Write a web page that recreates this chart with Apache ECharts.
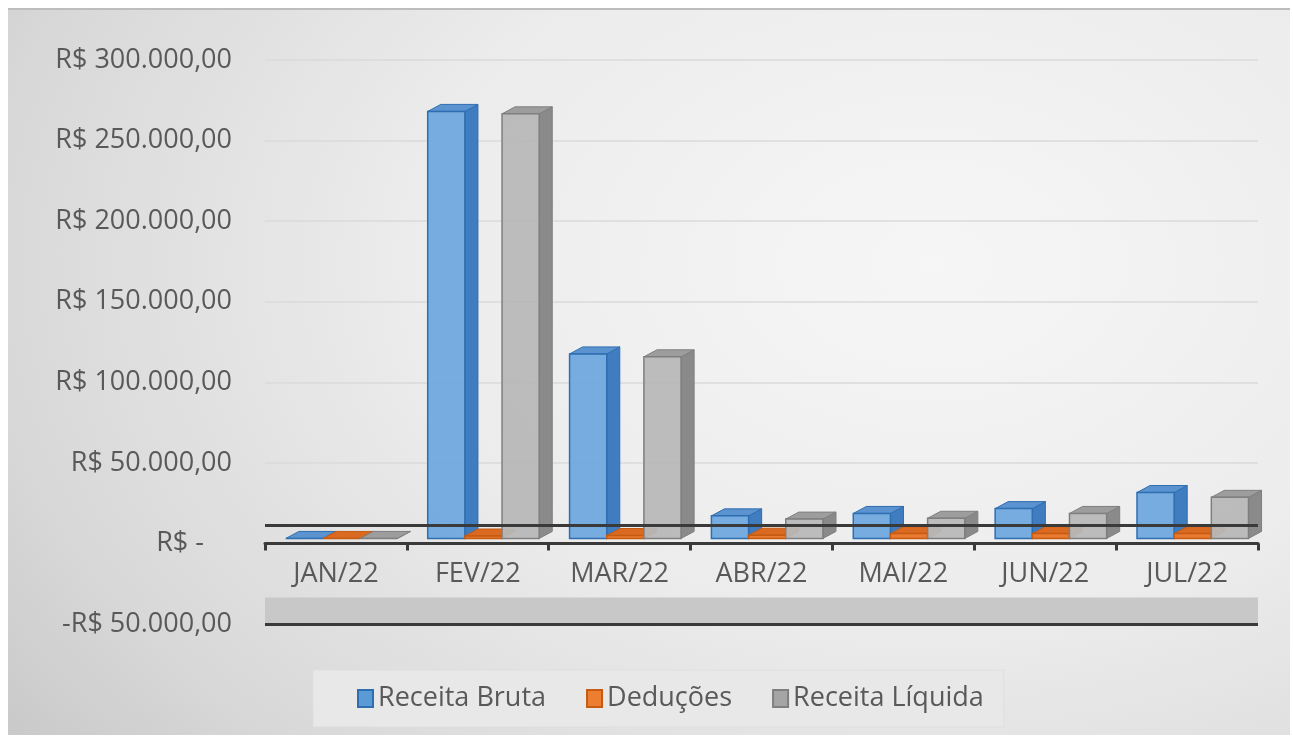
<!DOCTYPE html>
<html>
<head>
<meta charset="utf-8">
<script src="https://cdn.jsdelivr.net/npm/echarts@6/dist/echarts.min.js"></script>
<style>
  html, body { margin: 0; padding: 0; background: #fff; }
  #chart {
    position: absolute; left: 8px; top: 8px; width: 1282px; height: 727px;
    background: radial-gradient(ellipse 90% 110% at 72% 35%, #f6f6f6 0%, #ececec 45%, #d9d9d9 80%, #c9c9c9 100%);
    border-top: 2px solid #bdbdbd;
    box-sizing: border-box;
  }
</style>
</head>
<body>
<div id="chart"></div>
<script>
var categories = ['JAN/22', 'FEV/22', 'MAR/22', 'ABR/22', 'MAI/22', 'JUN/22', 'JUL/22'];
var receitaBruta = [0, 265000, 114500, 14000, 15500, 18500, 28500];
var deducoes = [0, 1500, 1800, 2000, 3000, 3000, 3000];
var receitaLiquida = [0, 263500, 112700, 12000, 12500, 15500, 25500];
var yTicks = [-50000, 0, 50000, 100000, 150000, 200000, 250000, 300000];

function brl(v) {
  if (v === 0) return 'R$ -    ';
  var n = Math.abs(v).toFixed(2).split('.');
  var inteiro = n[0].replace(/\B(?=(\d{3})+(?!\d))/g, '.');
  return (v < 0 ? '-' : '') + 'R$ ' + inteiro + ',' + n[1];
}

// caixa "3D" desenhada a partir das escalas do grid
function caixa(slot, face, lado, topo, borda) {
  return function (params, api) {
    var i = api.value(0), v = api.value(1);
    var band = api.size([1, 0])[0];
    var w = band * 0.262, dx = band * 0.092, dy = -7, lift = -5;
    var p0 = api.coord([i, 0]), p1 = api.coord([i, v]);
    var x = p0[0] - band * 0.353 + slot * w;
    var yb = p0[1] + lift, yt = p1[1] + lift;
    return {
      type: 'group',
      children: [
        { type: 'polygon', shape: { points: [[x + w, yt], [x + w + dx, yt + dy], [x + w + dx, yb + dy], [x + w, yb]] },
          style: { fill: lado, stroke: borda, lineWidth: 1 } },
        { type: 'polygon', shape: { points: [[x, yt], [x + dx, yt + dy], [x + w + dx, yt + dy], [x + w, yt]] },
          style: { fill: topo, stroke: borda, lineWidth: 1 } },
        { type: 'rect', shape: { x: x, y: yt, width: w, height: yb - yt },
          style: { fill: face, stroke: borda, lineWidth: 1.5 } }
      ]
    };
  };
}

function pares(arr) {
  return arr.map(function (v, i) { return [i, v]; });
}

var chartDom = document.getElementById('chart');
var myChart = echarts.init(chartDom);
var option;

var fonte = '"Open Sans", sans-serif';

option = {
  backgroundColor: 'transparent',
  textStyle: { fontFamily: fonte },
  grid: { left: 257, right: 32, top: 50, bottom: 111 },
  legend: {
    left: 305,
    top: 660,
    padding: [15, 20, 15, 44],
    backgroundColor: '#e8e8e8',
    borderColor: '#dedede',
    borderWidth: 1,
    itemGap: 40,
    itemWidth: 15,
    itemHeight: 17,
    icon: 'rect',
    textStyle: { fontSize: 27, color: '#595959', fontFamily: fonte },
    data: [
      { name: 'Receita Bruta', itemStyle: { color: '#5b9bd5', borderColor: '#2f6eb0', borderWidth: 2 } },
      { name: 'Deduções', itemStyle: { color: '#ed7d31', borderColor: '#c55a11', borderWidth: 2 } },
      { name: 'Receita Líquida', itemStyle: { color: '#a5a5a5', borderColor: '#7f7f7f', borderWidth: 2 } }
    ]
  },
  xAxis: {
    type: 'category',
    data: categories,
    boundaryGap: true,
    axisLine: { onZero: true, lineStyle: { color: '#3a3a3a', width: 3 } },
    axisTick: { show: true, length: 7, lineStyle: { color: '#3a3a3a', width: 3 } },
    axisLabel: { fontSize: 27, color: '#595959', margin: -63, fontFamily: fonte }
  },
  yAxis: {
    type: 'value',
    min: yTicks[0],
    max: yTicks[yTicks.length - 1],
    interval: 50000,
    axisLine: { show: false },
    axisTick: { show: false },
    splitLine: { lineStyle: { color: '#dadada', width: 1.5 } },
    axisLabel: {
      fontSize: 27, color: '#595959', margin: 33, fontFamily: fonte,
      formatter: function (v) { return brl(v); }
    }
  },
  series: [
    {
      name: 'piso',
      type: 'line',
      data: [],
      z: 1,
      silent: true,
      markArea: {
        silent: true,
        itemStyle: { color: '#c8c8c8' },
        data: [[{ yAxis: -50000 }, { yAxis: -33500 }]]
      },
      markLine: {
        silent: true,
        symbol: 'none',
        label: { show: false },
        lineStyle: { color: '#3a3a3a', width: 3, type: 'solid' },
        data: [{ yAxis: -50000 }, { yAxis: 11000 }]
      }
    },
    {
      name: 'Receita Bruta',
      type: 'custom',
      z: 3,
      itemStyle: { color: '#5b9bd5' },
      renderItem: caixa(0, 'rgba(108,166,222,0.92)', '#3f7dc0', '#5a93cf', '#2f6eb0'),
      encode: { x: 0, y: 1 },
      data: pares(receitaBruta)
    },
    {
      name: 'Deduções',
      type: 'custom',
      z: 3,
      itemStyle: { color: '#ed7d31' },
      renderItem: caixa(1, '#e97a30', '#c45f1c', '#da6a22', '#c55a11'),
      encode: { x: 0, y: 1 },
      data: pares(deducoes)
    },
    {
      name: 'Receita Líquida',
      type: 'custom',
      z: 3,
      itemStyle: { color: '#a5a5a5' },
      renderItem: caixa(2, 'rgba(184,184,184,0.95)', '#8a8a8a', '#9d9d9d', '#7f7f7f'),
      encode: { x: 0, y: 1 },
      data: pares(receitaLiquida)
    }
  ]
};

option && myChart.setOption(option);
</script>
</body>
</html>
